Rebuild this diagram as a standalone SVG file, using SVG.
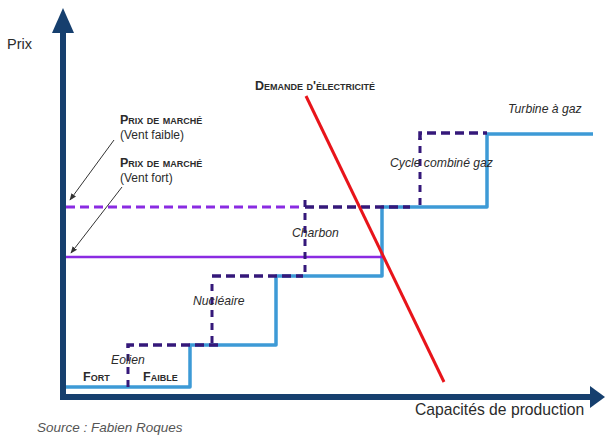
<svg xmlns="http://www.w3.org/2000/svg" width="605" height="439" viewBox="0 0 605 439">
<style>
.t{font-family:"Liberation Sans",Arial,sans-serif;fill:#2b2b2b}
.it{font-style:italic;font-size:12.2px}
.sc{font-variant:small-caps;font-size:12.5px;font-weight:bold}
.par{font-size:12px}
.axis{stroke:#163f6e;stroke-width:6;fill:none}
.supply{stroke:#3d9ad6;stroke-width:3.5;fill:none;stroke-linejoin:round}
.dash{stroke:#35187a;stroke-width:3.5;fill:none;stroke-dasharray:9 5}
.vdash{stroke:#35187a;stroke-width:3;fill:none;stroke-dasharray:7 6}
.faible{stroke:#8a2be2;stroke-width:3;fill:none;stroke-dasharray:9 5}
.fort{stroke:#8a2be2;stroke-width:2.5;fill:none}
.demand{stroke:#e8141a;stroke-width:3;fill:none}
.ptr{stroke:#333;stroke-width:1;fill:none;marker-end:url(#ah)}
</style>
<defs>
<marker id="ah" viewBox="0 0 10 10" refX="9" refY="5" markerWidth="7" markerHeight="7" orient="auto">
<path d="M0,1 L10,5 L0,9 z" fill="#333"/>
</marker>
</defs>
<rect width="605" height="439" fill="#fff"/>
<g id="axes">
<line class="axis" x1="63" y1="400" x2="63" y2="28"/>
<polygon points="63,8 52,33 74,33" fill="#163f6e"/>
<line class="axis" x1="60" y1="397" x2="592" y2="397"/>
<polygon points="605,397 590,386 590,408" fill="#163f6e"/>
<text class="t" x="7" y="49" font-size="14.5">Prix</text>
<text class="t" x="415" y="415" font-size="15.7">Capacités de production</text>
</g>
<g id="connectors">
<polyline class="supply" points="66,387 190,387 190,345 276,345 276,276 382,276 382,207 487,207 487,134 593,134"/>
<line class="faible" x1="66" y1="207" x2="300" y2="207"/>
<line class="fort" x1="66" y1="257" x2="383" y2="257"/>
<line class="vdash" x1="128" y1="387" x2="128" y2="350"/>
<polyline class="dash" points="128,348 128,345 218,345"/>
<line class="vdash" x1="212" y1="343" x2="212" y2="280"/>
<line class="dash" x1="212" y1="276" x2="303" y2="276"/>
<line class="vdash" x1="305" y1="272" x2="305" y2="200"/>
<line class="dash" x1="305" y1="207" x2="410" y2="207"/>
<line class="vdash" x1="420" y1="205" x2="420" y2="138"/>
<polyline class="dash" points="420,140 420,133 487,133"/>
<line class="demand" x1="306" y1="96" x2="444" y2="382"/>
<line class="ptr" x1="114" y1="140" x2="70" y2="200"/>
<line class="ptr" x1="122" y1="187" x2="71" y2="253"/>
</g>
<g id="label-vent-faible">
<text class="t sc" x="120" y="124">Prix de marché</text>
<text class="t par" x="120" y="139">(Vent faible)</text>
</g>
<g id="label-vent-fort">
<text class="t sc" x="120" y="167">Prix de marché</text>
<text class="t par" x="120" y="182">(Vent fort)</text>
</g>
<g id="label-demande">
<text class="t sc" x="255" y="90">Demande d'électricité</text>
</g>
<g id="turbine"><text class="t it" x="508" y="113">Turbine à gaz</text></g>
<g id="ccg"><text class="t it" x="390" y="167">Cycle combiné gaz</text></g>
<g id="charbon"><text class="t it" x="292" y="237">Charbon</text></g>
<g id="nucleaire"><text class="t it" x="193" y="305">Nucléaire</text></g>
<g id="eolien">
<text class="t it" x="111" y="364">Eolien</text>
<text class="t sc" x="83" y="381">Fort</text>
<text class="t sc" x="143" y="381">Faible</text>
</g>
<text class="t" x="37" y="432" font-size="13.5" font-style="italic" style="fill:#555">Source : Fabien Roques</text>
</svg>
